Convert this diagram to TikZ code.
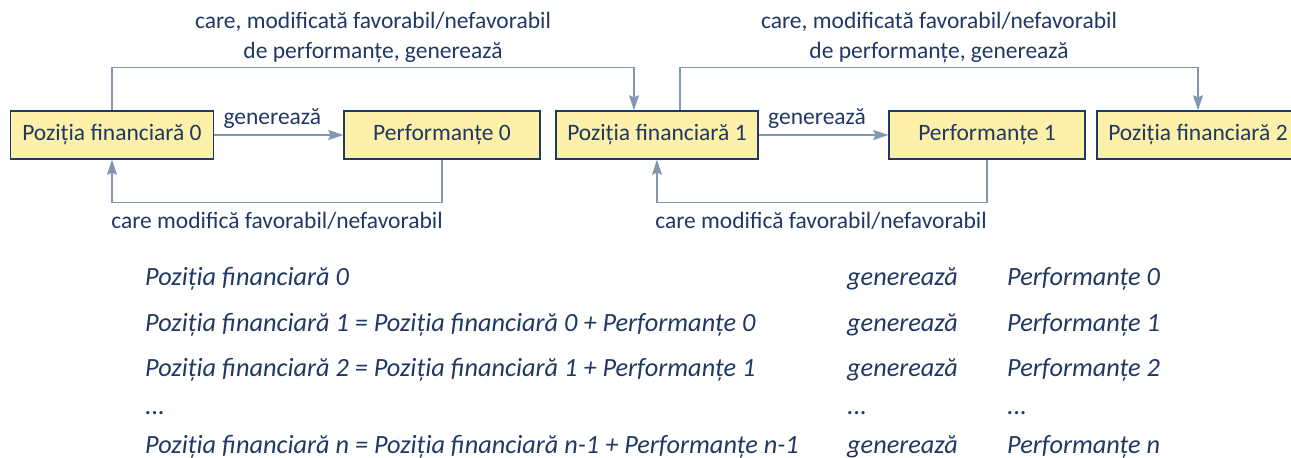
\documentclass[tikz,border=0pt]{standalone}
\usepackage{fontspec}
\setmainfont{Carlito}
\usetikzlibrary{arrows.meta}
\definecolor{boxfill}{HTML}{FDF0A8}
\definecolor{navy}{HTML}{1F3864}
\definecolor{conn}{HTML}{8497B0}
\tikzset{
  box/.style={draw=navy, line width=1.4pt, fill=boxfill, minimum height=48pt, inner sep=0pt, text=navy, font=\fontsize{23.5}{28}\selectfont},
  arr/.style={draw=conn, line width=1.4pt, -{Stealth[length=15pt,width=10pt,inset=2pt]}},
  lbl/.style={text=navy, font=\fontsize{23.5}{30}\selectfont, align=center, inner sep=0pt},
  row/.style={text=navy, font=\fontsize{26.3}{30}\selectfont\itshape, anchor=base west, inner sep=0pt},
}
\begin{document}
\begin{tikzpicture}[x=1pt,y=-1pt]
\useasboundingbox (0,0) rectangle (1291,458);
\begin{scope}
\clip (0,0) rectangle (1291,458);
\node[box, minimum width=203pt] (b0) at (112,135) {Poziția financiară 0};
\node[box, minimum width=196pt] (p0) at (442,135) {Performanțe 0};
\node[box, minimum width=202pt] (b1) at (657,135) {Poziția financiară 1};
\node[box, minimum width=196pt] (p1) at (987,135) {Performanțe 1};
\node[box, minimum width=202pt] (b2) at (1198,135) {Poziția financiară 2};
\end{scope}

% generează arrows
\draw[arr] (b0.east) -- node[lbl, above=6pt, pos=0.45] (g0) {generează} (p0.west);
\draw[arr] (b1.east) -- node[lbl, above=6pt, pos=0.45] (g1) {generează} (p1.west);

% top arrows
\draw[arr] (b0.north) -- ++(0,-43) -| ([xshift=-23pt]b1.north);
\draw[arr] ([xshift=23pt]b1.north) -- ++(0,-43) -| (b2.north);
\node[lbl] (t0) at (373,37) {care, modificată favorabil/nefavorabil\\de performanțe, generează};
\node[lbl] (t1) at (939,37) {care, modificată favorabil/nefavorabil\\de performanțe, generează};

% bottom arrows
\draw[arr] (p0.south) -- ++(0,43) -| (b0.south);
\draw[arr] (p1.south) -- ++(0,43) -| (b1.south);
\node[lbl] (m0) at (277,221) {care modifică favorabil/nefavorabil};
\node[lbl] (m1) at (821,221) {care modifică favorabil/nefavorabil};

% rows
\node[row] (r1a) at (145,285) {Poziția financiară 0};
\node[row] (r1b) at (847,285) {generează};
\node[row] (r1c) at (1007,285) {Performanțe 0};
\node[row] (r2a) at (145,331) {Poziția financiară 1 = Poziția financiară 0 + Performanțe 0};
\node[row] (r2b) at (847,331) {generează};
\node[row] (r2c) at (1007,331) {Performanțe 1};
\node[row] (r3a) at (145,376) {Poziția financiară 2 = Poziția financiară 1 + Performanțe 1};
\node[row] (r3b) at (847,376) {generează};
\node[row] (r3c) at (1007,376) {Performanțe 2};
\node[row] (r4a) at (145,414) {...};
\node[row] (r4b) at (847,414) {...};
\node[row] (r4c) at (1007,414) {...};
\node[row] (r5a) at (145,453) {Poziția financiară n = Poziția financiară n-1 + Performanțe n-1};
\node[row] (r5b) at (847,453) {generează};
\node[row] (r5c) at (1007,453) {Performanțe n};
\end{tikzpicture}
\end{document}
